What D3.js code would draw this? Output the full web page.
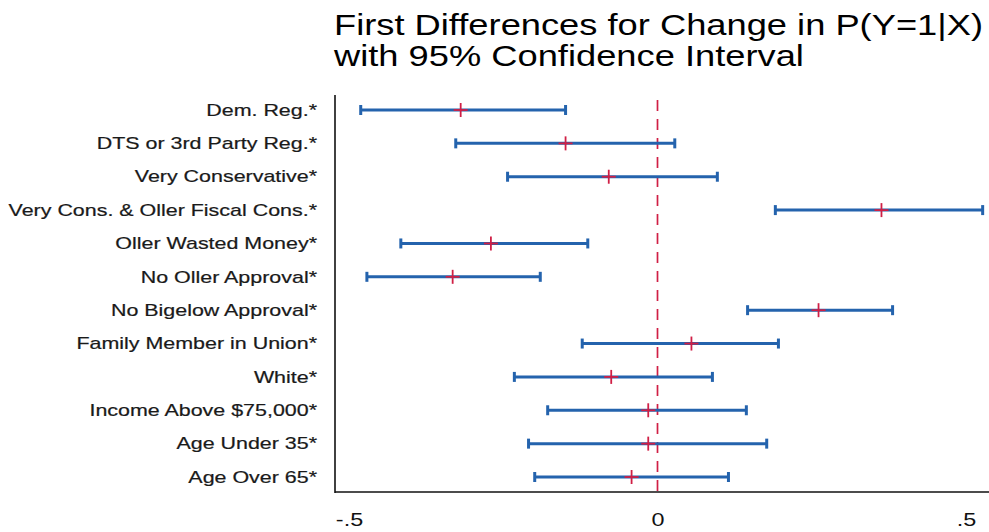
<!DOCTYPE html>
<html>
<head>
<meta charset="utf-8">
<script src="https://cdn.jsdelivr.net/npm/d3@7"></script>
<style>
  body { margin: 0; background: #fff; }
  text { font-family: "Liberation Sans", Arial, sans-serif; }
</style>
</head>
<body>
<svg id="chart"></svg>
<script>
    var categories = [
        "Dem. Reg.*",
        "DTS or 3rd Party Reg.*",
        "Very Conservative*",
        "Very Cons. & Oller Fiscal Cons.*",
        "Oller Wasted Money*",
        "No Oller Approval*",
        "No Bigelow Approval*",
        "Family Member in Union*",
        "White*",
        "Income Above $75,000*",
        "Age Under 35*",
        "Age Over 65*"
    ];
    var estimates = [-0.319, -0.149, -0.079, 0.363, -0.270, -0.332, 0.261, 0.055, -0.075, -0.015, -0.015, -0.042];
    var lower = [-0.481, -0.327, -0.243, 0.191, -0.416, -0.471, 0.146, -0.122, -0.232, -0.178, -0.209, -0.199];
    var upper = [-0.149, 0.028, 0.097, 0.527, -0.113, -0.190, 0.381, 0.196, 0.089, 0.144, 0.177, 0.115];
    var tickValues = [-0.5, 0, 0.5];
    var tickLabels = ["-.5", "0", ".5"];

    var width = 989, height = 532;
    var plotLeft = 335, plotTop = 95, plotBottom = 492;

    var rows = categories.map((c, i) => ({ name: c, est: estimates[i], lo: lower[i], hi: upper[i] }));

    var svg = d3.select("#chart")
        .attr("width", width)
        .attr("height", height);

    var x = d3.scaleLinear()
        .domain([-0.5, 0.5])
        .range([349, 966]);

    var y = d3.scalePoint()
        .domain(categories)
        .range([110, 477]);

    var blue = "#2463ad", red = "#d01f45";

    // title (source text is drawn wider than it is tall, hence the x stretch)
    var title = svg.append("text")
        .attr("transform", "translate(334,35) scale(1.21,1)")
        .attr("font-size", 30)
        .attr("fill", "#000");
    title.append("tspan").attr("x", 0).text("First Differences for Change in P(Y=1|X)");
    title.append("tspan").attr("x", 0).attr("dy", 31).text("with 95% Confidence Interval");

    // zero reference line
    svg.append("line")
        .attr("x1", x(0)).attr("x2", x(0))
        .attr("y1", 100).attr("y2", plotBottom)
        .attr("stroke", red)
        .attr("stroke-width", 1.7)
        .attr("stroke-dasharray", "11,8");

    // intervals
    var g = svg.append("g");
    g.selectAll(".ci")
        .data(rows)
        .enter().append("line")
        .attr("x1", d => x(d.lo)).attr("x2", d => x(d.hi))
        .attr("y1", d => y(d.name)).attr("y2", d => y(d.name))
        .attr("stroke", blue)
        .attr("stroke-width", 3);

    ["lo", "hi"].forEach(k => {
        g.selectAll(".cap-" + k)
            .data(rows)
            .enter().append("line")
            .attr("x1", d => x(d[k])).attr("x2", d => x(d[k]))
            .attr("y1", d => y(d.name) - 5).attr("y2", d => y(d.name) + 5)
            .attr("stroke", blue)
            .attr("stroke-width", 3);
    });

    // point estimates as crosses
    g.selectAll(".h")
        .data(rows)
        .enter().append("line")
        .attr("x1", d => x(d.est) - 7).attr("x2", d => x(d.est) + 7)
        .attr("y1", d => y(d.name)).attr("y2", d => y(d.name))
        .attr("stroke", red)
        .attr("stroke-width", 1.8);
    g.selectAll(".v")
        .data(rows)
        .enter().append("line")
        .attr("x1", d => x(d.est)).attr("x2", d => x(d.est))
        .attr("y1", d => y(d.name) - 7).attr("y2", d => y(d.name) + 7)
        .attr("stroke", red)
        .attr("stroke-width", 1.8);

    // y labels
    svg.selectAll(".lab")
        .data(categories)
        .enter().append("text")
        .attr("transform", d => "translate(317," + y(d) + ") scale(1.34,1)")
        .attr("dy", "0.36em")
        .attr("text-anchor", "end")
        .attr("font-size", 16)
        .attr("fill", "#1a1a1a")
        .attr("stroke", "#1a1a1a")
        .attr("stroke-width", 0.2)
        .text(d => d);

    // axis lines
    svg.append("line")
        .attr("x1", plotLeft).attr("x2", plotLeft)
        .attr("y1", plotTop).attr("y2", plotBottom + 1)
        .attr("stroke", "#111").attr("stroke-width", 1.6);
    svg.append("line")
        .attr("x1", plotLeft).attr("x2", width)
        .attr("y1", plotBottom).attr("y2", plotBottom)
        .attr("stroke", "#111").attr("stroke-width", 1.6);

    // x axis labels
    var xAxis = d3.axisBottom(x)
        .tickValues(tickValues)
        .tickFormat((d, i) => tickLabels[i])
        .tickSize(0);
    var ax = svg.append("g")
        .attr("transform", "translate(0," + plotBottom + ")")
        .call(xAxis);
    ax.select(".domain").remove();
    ax.selectAll("text")
        .attr("y", 34)
        .attr("dy", null)
        .attr("transform", "scale(1.3,1)")
        .attr("font-size", 18)
        .attr("font-family", "'Liberation Sans', Arial, sans-serif")
        .attr("fill", "#111");
</script>
</body>
</html>
